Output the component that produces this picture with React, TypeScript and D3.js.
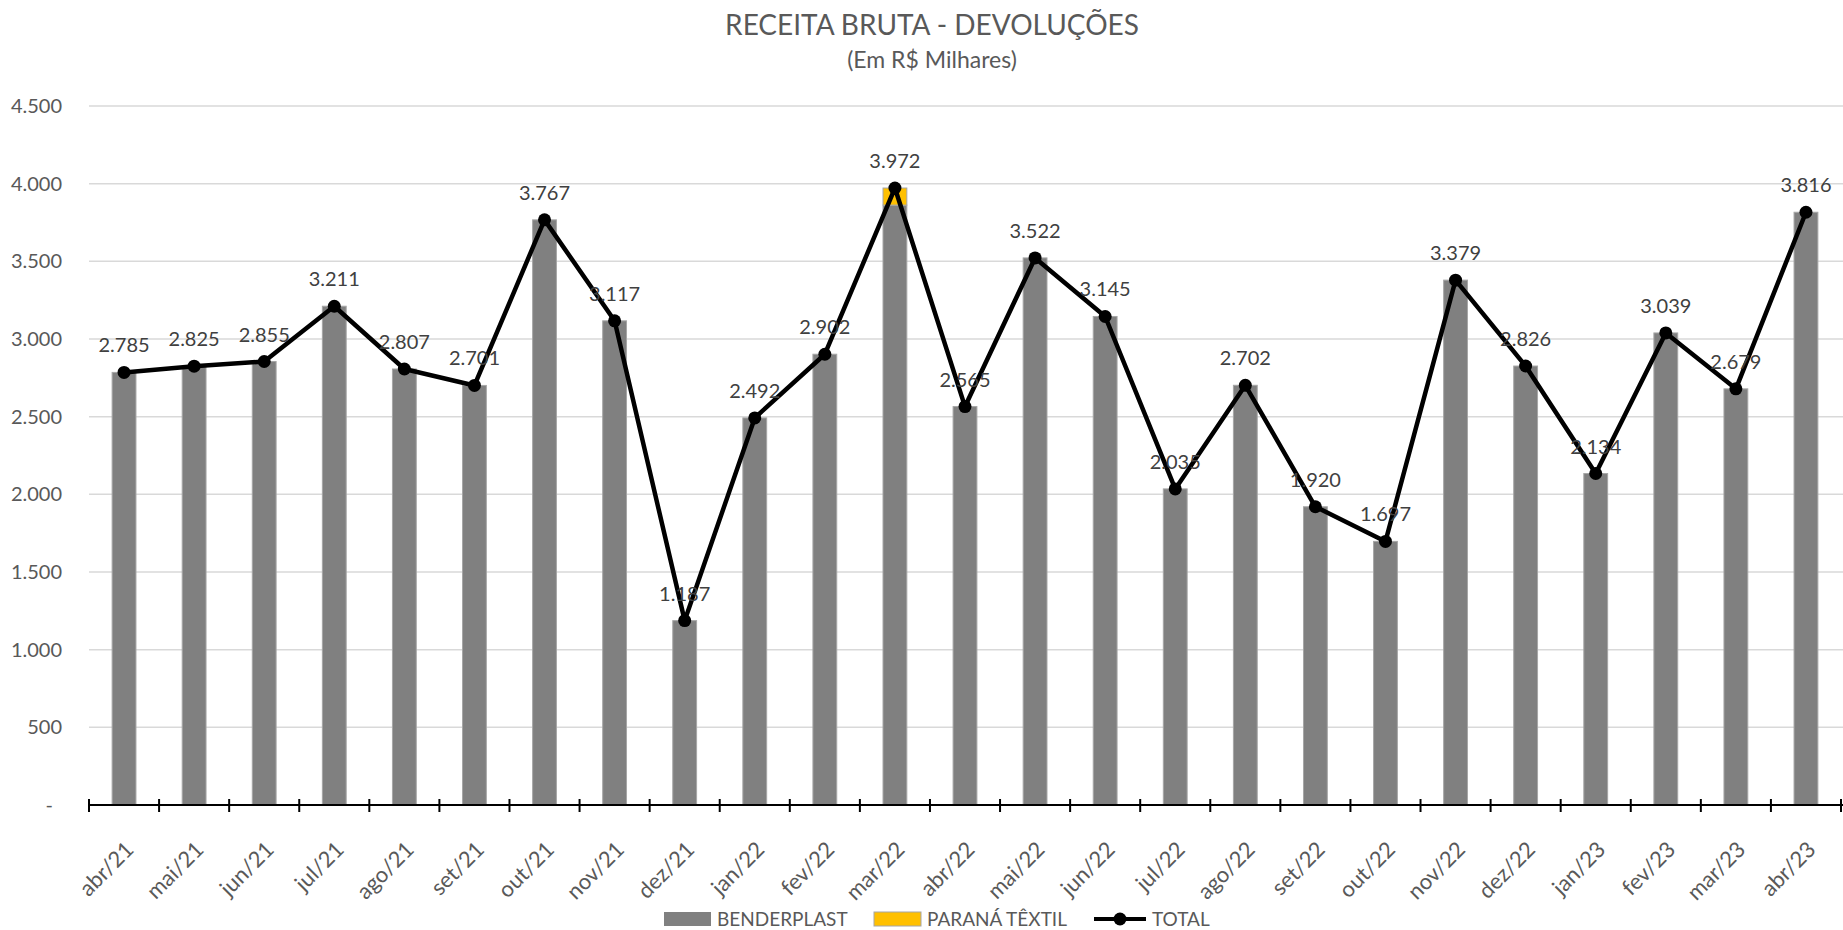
import React, { useEffect, useRef } from "react";
import * as d3 from "d3";

const months = [
  "abr/21", "mai/21", "jun/21", "jul/21", "ago/21", "set/21", "out/21", "nov/21", "dez/21",
  "jan/22", "fev/22", "mar/22", "abr/22", "mai/22", "jun/22", "jul/22", "ago/22", "set/22",
  "out/22", "nov/22", "dez/22", "jan/23", "fev/23", "mar/23", "abr/23",
];
const benderplast = [
  2785, 2825, 2855, 3211, 2807, 2701, 3767, 3117, 1187, 2492, 2902, 3862, 2565,
  3522, 3145, 2035, 2702, 1920, 1697, 3379, 2826, 2134, 3039, 2679, 3816,
];
const paranaTextil = [
  0, 0, 0, 0, 0, 0, 0, 0, 0, 0, 0, 110, 0, 0, 0, 0, 0, 0, 0, 0, 0, 0, 0, 0, 0,
];
const total = [
  2785, 2825, 2855, 3211, 2807, 2701, 3767, 3117, 1187, 2492, 2902, 3972, 2565,
  3522, 3145, 2035, 2702, 1920, 1697, 3379, 2826, 2134, 3039, 2679, 3816,
];
const yTicks = [0, 500, 1000, 1500, 2000, 2500, 3000, 3500, 4000, 4500];

const W = 1843;
const H = 930;
const FONT = "Lato, 'Open Sans', sans-serif";
const TXT = "#595959";

const fmt = (v: number) => (v === 0 ? "-" : d3.format(",")(v).replace(/,/g, "."));

export default function App() {
  const svgRef = useRef<SVGSVGElement>(null);

  useEffect(() => {
    const svg = d3.select(svgRef.current);
    svg.selectAll("*").remove();

    const left = 89, right = 1841, top = 106, bottom = 805;
    const x = d3.scaleBand<string>().domain(months).range([left, right]).padding(0);
    const y = d3.scaleLinear().domain([0, 4500]).range([bottom, top]);
    const barW = x.bandwidth() * 0.34;
    const cx = (m: string) => (x(m) as number) + x.bandwidth() / 2;

    // título
    svg.append("text")
      .attr("x", 932).attr("y", 35)
      .attr("text-anchor", "middle")
      .style("font-family", FONT).style("font-size", "28px").style("fill", TXT)
      .text("RECEITA BRUTA - DEVOLUÇÕES");
    svg.append("text")
      .attr("x", 932).attr("y", 68)
      .attr("text-anchor", "middle")
      .style("font-family", FONT).style("font-size", "23px").style("fill", TXT)
      .text("(Em R$ Milhares)");

    // grid + eixo y
    const grid = svg.append("g");
    grid.selectAll("line")
      .data(yTicks.filter((t) => t > 0))
      .enter().append("line")
      .attr("x1", left).attr("x2", W)
      .attr("y1", (d) => y(d)).attr("y2", (d) => y(d))
      .style("stroke", "#d9d9d9").style("stroke-width", 1.5);

    svg.append("g").selectAll("text")
      .data(yTicks)
      .enter().append("text")
      .attr("x", (d) => (d === 0 ? 53 : 62))
      .attr("y", (d) => y(d))
      .attr("dy", "0.35em")
      .attr("text-anchor", "end")
      .style("font-family", FONT).style("font-size", "20px").style("fill", TXT)
      .text((d) => fmt(d));

    // barras empilhadas
    const bars = svg.append("g");
    bars.selectAll("rect.bp")
      .data(months)
      .enter().append("rect")
      .attr("class", "bp")
      .attr("x", (m) => cx(m) - barW / 2)
      .attr("width", barW)
      .attr("y", (m, i) => y(benderplast[i]))
      .attr("height", (m, i) => bottom - y(benderplast[i]))
      .style("fill", "#808080")
      .style("stroke", "#a6a6a6").style("stroke-width", 1);
    bars.selectAll("rect.pt")
      .data(months.filter((m, i) => paranaTextil[i] > 0))
      .enter().append("rect")
      .attr("class", "pt")
      .attr("x", (m) => cx(m) - barW / 2)
      .attr("width", barW)
      .attr("y", (m) => {
        const i = months.indexOf(m);
        return y(benderplast[i] + paranaTextil[i]);
      })
      .attr("height", (m) => {
        const i = months.indexOf(m);
        return y(benderplast[i]) - y(benderplast[i] + paranaTextil[i]);
      })
      .style("fill", "#ffc000")
      .style("stroke", "#a6a6a6").style("stroke-width", 1);

    // eixo x
    const ax = svg.append("g");
    ax.append("line")
      .attr("x1", left).attr("x2", W)
      .attr("y1", bottom).attr("y2", bottom)
      .style("stroke", "#000").style("stroke-width", 2);
    ax.selectAll("line.tick")
      .data([...months.map((m) => x(m) as number), right])
      .enter().append("line")
      .attr("class", "tick")
      .attr("x1", (d) => d).attr("x2", (d) => d)
      .attr("y1", bottom - 6).attr("y2", bottom + 7)
      .style("stroke", "#000").style("stroke-width", 2);
    ax.selectAll("text")
      .data(months)
      .enter().append("text")
      .attr("transform", (m) => `translate(${cx(m) + 11}, ${bottom + 46}) rotate(-45)`)
      .attr("text-anchor", "end")
      .style("font-family", FONT).style("font-size", "22px").style("fill", TXT)
      .text((m) => m);

    // linha total
    const line = d3.line<number>()
      .x((d, i) => cx(months[i]))
      .y((d) => y(d));
    svg.append("path")
      .datum(total)
      .attr("d", line)
      .style("fill", "none")
      .style("stroke", "#000")
      .style("stroke-width", 4.5)
      .style("stroke-linejoin", "round");
    svg.append("g").selectAll("circle")
      .data(total)
      .enter().append("circle")
      .attr("cx", (d, i) => cx(months[i]))
      .attr("cy", (d) => y(d))
      .attr("r", 6.5)
      .style("fill", "#000");

    // rótulos
    svg.append("g").selectAll("text")
      .data(total)
      .enter().append("text")
      .attr("x", (d, i) => cx(months[i]))
      .attr("y", (d) => y(d) - 20)
      .attr("text-anchor", "middle")
      .style("font-family", FONT).style("font-size", "20px").style("fill", "#404040")
      .text((d) => fmt(d));

    // legenda
    const lg = svg.append("g").attr("transform", "translate(0, 919)");
    lg.append("rect").attr("x", 664).attr("y", -7).attr("width", 47).attr("height", 14)
      .style("fill", "#808080");
    lg.append("text").attr("x", 717).attr("y", 0).attr("dy", "0.35em")
      .style("font-family", FONT).style("font-size", "19px").style("fill", TXT)
      .text("BENDERPLAST");
    lg.append("rect").attr("x", 874).attr("y", -7).attr("width", 47).attr("height", 14)
      .style("fill", "#ffc000").style("stroke", "#a6a6a6").style("stroke-width", 1);
    lg.append("text").attr("x", 927).attr("y", 0).attr("dy", "0.35em")
      .style("font-family", FONT).style("font-size", "19px").style("fill", TXT)
      .text("PARANÁ TÊXTIL");
    lg.append("line").attr("x1", 1094).attr("x2", 1146).attr("y1", 0).attr("y2", 0)
      .style("stroke", "#000").style("stroke-width", 4);
    lg.append("circle").attr("cx", 1120).attr("cy", 0).attr("r", 6.5).style("fill", "#000");
    lg.append("text").attr("x", 1152).attr("y", 0).attr("dy", "0.35em")
      .style("font-family", FONT).style("font-size", "19px").style("fill", TXT)
      .text("TOTAL");
  }, []);

  return (
    <React.Fragment>
      <style>{"body{margin:0;}"}</style>
      <svg ref={svgRef} width={W} height={H} style={{ display: "block", background: "#fff" }} />
    </React.Fragment>
  );
}
